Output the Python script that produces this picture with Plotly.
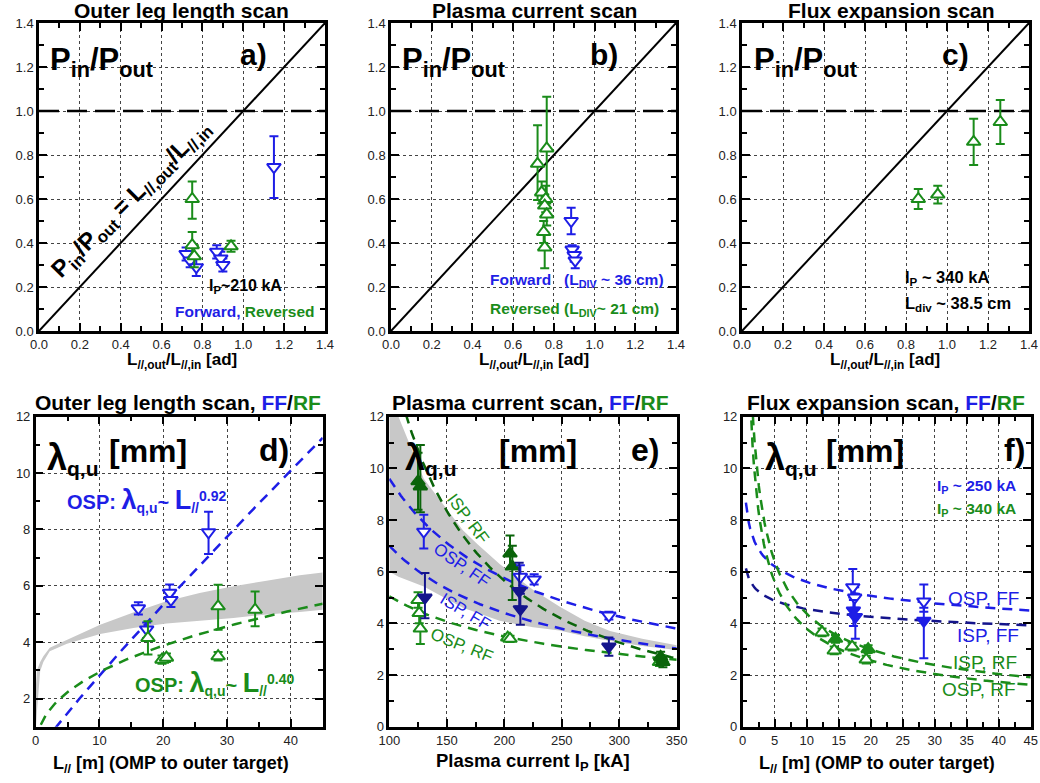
import numpy as np
import plotly.graph_objects as go

W, H = 1040, 783
BLUE = "#1e1ee6"
NAVY = "#14148c"
GREEN = "#1a8c1a"
DKGREEN = "#0a640a"
GRAY = "#c8c8c8"

# ---------------- Panel a: outer leg length scan (P_in/P_out) ----------------
a_fwd_x = [0.72, 0.74, 0.77, 0.87, 0.89, 0.90, 1.15]
a_fwd_y = [0.35, 0.32, 0.29, 0.36, 0.33, 0.30, 0.745]
a_fwd_ep = [0.03, 0.03, 0.04, 0.03, 0.03, 0.03, 0.14]
a_fwd_em = [0.03, 0.03, 0.04, 0.03, 0.03, 0.03, 0.14]
a_rev_x = [0.75, 0.75, 0.76, 0.94]
a_rev_y = [0.60, 0.39, 0.34, 0.385]
a_rev_ep = [0.08, 0.06, 0.05, 0.025]
a_rev_em = [0.09, 0.06, 0.05, 0.025]

# ---------------- Panel b: plasma current scan ----------------
b_fwd_x = [0.885, 0.89, 0.90, 0.905]
b_fwd_y = [0.50, 0.37, 0.345, 0.32]
b_fwd_e = [0.06, 0.02, 0.03, 0.035]
b_rev_x = [0.72, 0.765, 0.74, 0.76, 0.755, 0.765, 0.75, 0.755]
b_rev_y = [0.76, 0.83, 0.63, 0.60, 0.57, 0.53, 0.45, 0.38]
b_rev_ep = [0.175, 0.235, 0.05, 0.06, 0.05, 0.05, 0.05, 0.07]
b_rev_em = [0.165, 0.23, 0.05, 0.06, 0.05, 0.05, 0.05, 0.095]

# ---------------- Panel c: flux expansion scan ----------------
c_rev_x = [0.86, 0.955, 1.13, 1.26]
c_rev_y = [0.60, 0.62, 0.86, 0.95]
c_rev_e = [0.045, 0.04, 0.105, 0.10]

ratio_line = [0.0, 1.4]

# ---------------- Panel d: lambda_q,u vs L// (outer leg length) ----------------
d_ff_L = [16.1, 17.4, 21.0, 21.2, 27.1]
d_ff_lam = [5.2, 4.45, 5.75, 5.5, 7.9]
d_ff_ep = [0.22, 0.25, 0.3, 0.25, 0.73]
d_ff_em = [0.22, 0.3, 0.3, 0.25, 0.77]
d_rf_L = [17.6, 19.8, 20.5, 28.6, 28.6, 34.4]
d_rf_lam = [4.15, 3.38, 3.45, 5.27, 3.5, 5.15]
d_rf_ep = [0.59, 0.15, 0.15, 0.77, 0.15, 0.65]
d_rf_em = [0.59, 0.15, 0.15, 0.83, 0.15, 0.59]
d_band_L = [0.05, 0.2, 0.7, 1.2, 2.2, 4.9, 10.1, 15.3, 20.5, 25.7, 31.0, 36.2, 41.4, 45.0]
d_band_upper = [2.5, 3.0, 3.3, 3.5, 3.8, 4.09, 4.62, 5.05, 5.45, 5.74, 5.98, 6.18, 6.37, 6.47]
d_band_lower = [1.0, 1.55, 2.97, 3.3, 3.68, 3.94, 4.29, 4.5, 4.66, 4.77, 4.86, 4.98, 5.07, 5.15]
# power-law fits  lambda = C * L^b  (coefficient, exponent, L start, L end)
d_fit_ff = (0.339, 0.92, 3.0, 45.0)
d_fit_rf = (1.17, 0.40, 0.8, 45.0)

# ---------------- Panel e: lambda_q,u vs plasma current ----------------
e_isp_rf_I = [125, 127, 205, 207, 336, 338]
e_isp_rf_lam = [9.5, 9.3, 6.7, 6.2, 2.7, 2.5]
e_isp_rf_ep = [1.1, 1.6, 0.7, 0.8, 0.2, 0.2]
e_isp_rf_em = [1.1, 1.0, 0.6, 1.3, 0.2, 0.2]
e_osp_rf_I = [125, 126, 127, 203, 205, 335, 337]
e_osp_rf_lam = [4.9, 4.4, 3.8, 3.45, 3.4, 2.5, 2.6]
e_osp_rf_e = [0.3, 0.4, 0.6, 0.12, 0.12, 0.15, 0.15]
e_isp_ff_I = [131, 213, 214, 291]
e_isp_ff_lam = [5.0, 5.25, 4.55, 3.1]
e_isp_ff_ep = [0.95, 1.1, 0.6, 0.35]
e_isp_ff_em = [0.8, 0.6, 0.6, 0.35]
e_osp_ff_I = [130, 214, 226, 291]
e_osp_ff_lam = [7.55, 5.8, 5.7, 4.3]
e_osp_ff_e = [0.65, 0.45, 0.2, 0.15]
e_band_I = [100, 108, 130, 164, 177, 196, 225, 248, 270, 292, 320, 350]
e_band_upper = [13.5, 12.0, 9.6, 7.6, 7.05, 6.3, 5.3, 4.65, 4.1, 3.7, 3.4, 3.15]
e_band_lower = [6.0, 5.8, 5.43, 4.6, 4.4, 4.1, 3.85, 3.72, 3.5, 3.32, 3.12, 2.97]
# fits lambda = A * (I/100)^-b  (A, b, I start, colour)
e_fits = {
    "OSP, FF": (9.6, 0.74, 100, BLUE),
    "ISP, FF": (7.0, 0.67, 100, BLUE),
    "ISP, RF": (14.5, 1.36, 110, DKGREEN),
    "OSP, RF": (5.05, 0.533, 100, GREEN),
}

# ---------------- Panel f: flux expansion scan ----------------
f_osp_ff_L = [17.2, 17.5, 28.3]
f_osp_ff_lam = [5.4, 5.0, 4.85]
f_osp_ff_ep = [0.7, 0.4, 0.65]
f_osp_ff_em = [0.4, 0.4, 0.4]
f_isp_ff_L = [17.3, 17.6, 28.3]
f_isp_ff_lam = [4.5, 4.25, 4.1]
f_isp_ff_ep = [0.4, 0.3, 0.5]
f_isp_ff_em = [0.6, 0.85, 1.45]
f_rf_open_L = [12.4, 14.3, 17.1, 19.3]
f_rf_open_lam = [3.65, 2.95, 3.1, 2.6]
f_rf_fill_L = [14.5, 19.6]
f_rf_fill_lam = [3.4, 3.0]
# fits lambda = C * L^-b  (C, b, L start, colour)
f_fits = {
    "OSP, FF": (7.84, 0.146, 0.5, BLUE),
    "ISP, FF": (5.72, 0.099, 0.5, NAVY),
    "ISP, RF": (15.5, 0.55, 1.2, GREEN),
    "OSP, RF": (13.9, 0.565, 1.1, GREEN),
}

# ======================================================================
def px(x):
    return x / W


def py(y):
    return 1 - y / H


FONT = "Arial, Liberation Sans, sans-serif"

fig = go.Figure()

top = [py(331), py(23)]
bot = [py(726.7), py(416.7)]
doms = {
    1: ([px(39), px(325)], top),
    2: ([px(391), px(676)], top),
    3: ([px(742), px(1029)], top),
    4: ([px(35.7), px(322.7)], bot),
    5: ([px(389.3), px(676.7)], bot),
    6: ([px(742.7), px(1030.7)], bot),
}


def axis(dom, rng, dtick, mdtick, fmt, anchor, tick0=0):
    return dict(
        domain=dom, range=rng, dtick=dtick, tick0=tick0, tickformat=fmt, automargin=False,
        anchor=anchor, showgrid=True, gridcolor="#444", griddash="dot", gridwidth=1,
        ticks="inside", ticklen=8, tickwidth=2, tickcolor="black",
        minor=dict(ticks="inside", ticklen=5, tickwidth=2, dtick=mdtick, tickcolor="black", showgrid=False),
        showline=True, linecolor="black", linewidth=2.5, mirror="ticks", zeroline=False,
        tickfont=dict(family=FONT, size=13, color="#222"),
    )


specs = {
    1: ((0, 1.4), 0.2, 0.1, ".1f", (0, 1.4), 0.2, 0.1, ".1f"),
    2: ((0, 1.4), 0.2, 0.1, ".1f", (0, 1.4), 0.2, 0.1, ".1f"),
    3: ((0, 1.4), 0.2, 0.1, ".1f", (0, 1.4), 0.2, 0.1, ".1f"),
    4: ((0, 45), 10, 5, "d", (1, 12), 2, 1, "d"),
    5: ((100, 350), 50, 25, "d", (0, 12), 2, 1, "d"),
    6: ((0, 45), 5, 2.5, "d", (0, 12), 2, 1, "d"),
}
lay = {}
for i, (xr, xd, xm, xf, yr, yd, ym, yf) in specs.items():
    s = "" if i == 1 else str(i)
    lay["xaxis" + s] = axis(doms[i][0], list(xr), xd, xm, xf, "y" + s)
    lay["yaxis" + s] = axis(doms[i][1], list(yr), yd, ym, yf, "x" + s)
fig.update_layout(**lay)


def ref(i):
    s = "" if i == 1 else str(i)
    return "x" + s, "y" + s


def pts(i, x, y, color, symbol, ep, em=None, size=12, fill=False):
    xa, ya = ref(i)
    fig.add_trace(go.Scatter(
        x=x, y=y, xaxis=xa, yaxis=ya, mode="markers", showlegend=False,
        marker=dict(symbol=symbol, size=size, color=color if fill else "white",
                    line=dict(color=color, width=2)),
        error_y=dict(type="data", array=ep, arrayminus=em if em is not None else ep,
                     color=color, thickness=2, width=4.5),
    ))


def line(i, x, y, color, dash, width=2.5):
    xa, ya = ref(i)
    fig.add_trace(go.Scatter(x=x, y=y, xaxis=xa, yaxis=ya, mode="lines", showlegend=False,
                             line=dict(color=color, width=width, dash=dash)))


def band(i, x, up, lo):
    xa, ya = ref(i)
    fig.add_trace(go.Scatter(x=list(x) + list(x)[::-1], y=list(up) + list(lo)[::-1],
                             xaxis=xa, yaxis=ya, mode="lines", fill="toself",
                             fillcolor=GRAY, line=dict(width=0, color=GRAY), showlegend=False))


# top row reference lines
for i in (1, 2, 3):
    line(i, ratio_line, ratio_line, "black", "solid", 2)
    line(i, ratio_line, [1.0, 1.0], "black", "20px,8px", 2.5)

pts(1, a_fwd_x, a_fwd_y, BLUE, "triangle-down", a_fwd_ep, a_fwd_em)
pts(1, a_rev_x, a_rev_y, GREEN, "triangle-up", a_rev_ep, a_rev_em)
pts(2, b_rev_x, b_rev_y, GREEN, "triangle-up", b_rev_ep, b_rev_em)
pts(2, b_fwd_x, b_fwd_y, BLUE, "triangle-down", b_fwd_e)
pts(3, c_rev_x, c_rev_y, GREEN, "triangle-up", c_rev_e)

# panel d
band(4, d_band_L, d_band_upper, d_band_lower)
for (C, b, l0, l1), col in ((d_fit_ff, BLUE), (d_fit_rf, GREEN)):
    L = np.linspace(l0, l1, 120)
    line(4, L, C * L ** b, col, "10px,7px")
pts(4, d_ff_L, d_ff_lam, BLUE, "triangle-down", d_ff_ep, d_ff_em)
pts(4, d_rf_L, d_rf_lam, GREEN, "triangle-up", d_rf_ep, d_rf_em)

# panel e
band(5, e_band_I, e_band_upper, e_band_lower)
for name, (A, b, i0, col) in e_fits.items():
    I = np.linspace(i0, 350, 150)
    line(5, I, A * (I / 100.0) ** (-b), col, "10px,7px")
pts(5, e_osp_rf_I, e_osp_rf_lam, GREEN, "triangle-up", e_osp_rf_e)
pts(5, e_isp_rf_I, e_isp_rf_lam, DKGREEN, "triangle-up", e_isp_rf_ep, e_isp_rf_em, fill=True)
pts(5, e_osp_ff_I, e_osp_ff_lam, BLUE, "triangle-down", e_osp_ff_e)
pts(5, e_isp_ff_I, e_isp_ff_lam, NAVY, "triangle-down", e_isp_ff_ep, e_isp_ff_em, fill=True)

# panel f
for name, (C, b, l0, col) in f_fits.items():
    L = np.linspace(l0, 45, 200)
    line(6, L, C * L ** (-b), col, "10px,7px")
pts(6, f_rf_open_L, f_rf_open_lam, GREEN, "triangle-up", [0.15] * len(f_rf_open_L))
pts(6, f_rf_fill_L, f_rf_fill_lam, GREEN, "triangle-up", [0.15] * len(f_rf_fill_L), fill=True)
pts(6, f_osp_ff_L, f_osp_ff_lam, BLUE, "triangle-down", f_osp_ff_ep, f_osp_ff_em)
pts(6, f_isp_ff_L, f_isp_ff_lam, BLUE, "triangle-down", f_isp_ff_ep, f_isp_ff_em, fill=True)

# ---------------- text annotations ----------------
ann = []


def txt(x, y, text, size, color="black", bold=True, xanchor="center", yanchor="middle", angle=0):
    t = "<b>" + text + "</b>" if bold else text
    ann.append(dict(x=px(x), y=py(y), xref="paper", yref="paper", text=t, showarrow=False,
                    xanchor=xanchor, yanchor=yanchor, textangle=angle,
                    font=dict(family=FONT, size=size, color=color)))


def span(c, t):
    return '<span style="color:%s">%s</span>' % (c, t)


def big(t, s):
    return '<span style="font-size:%dpx">%s</span>' % (s, t)


# titles
txt(181, 11, "Outer leg length scan", 21)
txt(534, 11, "Plasma current scan", 21)
txt(891, 11, "Flux expansion scan", 21)
FFRF = span(BLUE, "FF") + "/" + span(GREEN, "RF")
txt(33, 402, "Outer leg length scan, " + FFRF, 21, xanchor="left")
txt(390, 402, "Plasma current scan, " + FFRF, 21, xanchor="left")
txt(745, 402, "Flux expansion scan, " + FFRF, 21, xanchor="left")

# axis titles
LRAT = "L<sub>//,out</sub>/L<sub>//,in</sub> [ad]"
txt(182, 361, LRAT, 17)
txt(534, 361, LRAT, 17)
txt(885, 361, LRAT, 17)
txt(171, 764, "L<sub>//</sub> [m] (OMP to outer target)", 18)
txt(533, 762, "Plasma current I<sub>P</sub> [kA]", 18.5)
txt(877, 764, "L<sub>//</sub> [m] (OMP to outer target)", 18)

# panel labels
PP = "P<sub>in</sub>/P<sub>out</sub>"
for x0, lab, lx in ((48, "a)", 253), (400, "b)", 604), (752, "c)", 955)):
    txt(x0, 62, PP, 31, xanchor="left")
    txt(lx, 55, lab, 30)
txt(131, 199, "P<sub>in</sub>/P<sub>out</sub> = L<sub>//,out</sub>/L<sub>//,in</sub>", 24, angle=-45)
txt(207, 286, "I<sub>P</sub>~210 kA", 16, xanchor="left")
txt(173, 311, span(BLUE, "Forward,") + " " + span(GREEN, "Reversed"), 15.5, xanchor="left")
txt(488, 280, "Forward   (L<sub>DIV</sub> ~ 36 cm)", 15.5, color=BLUE, xanchor="left")
txt(488, 309, "Reversed (L<sub>DIV</sub>~ 21 cm)", 15.5, color=GREEN, xanchor="left")
txt(903, 278, "I<sub>P</sub> ~ 340 kA", 16.5, xanchor="left")
txt(903, 304, "L<sub>div</sub> ~ 38.5 cm", 16.5, xanchor="left")

LAMQ = big("λ", 36) + "<sub>q,u</sub>"
for lx, mx, tx, lab in ((45, 107, 274, "d)"), (403, 497, 645, "e)"), (763, 824, 1014, "f)")):
    txt(lx, 458, LAMQ, 30, xanchor="left")
    txt(mx, 451, "[mm]", 32, xanchor="left")
    txt(tx, 450, lab, 32)

txt(65, 500, "OSP: " + big("λ", 27) + "<sub>q,u</sub>~ " + big("L", 27) + "<sub>//</sub><sup>0.92</sup>",
    20, color=BLUE, xanchor="left")
txt(133, 683, "OSP: " + big("λ", 27) + "<sub>q,u</sub>~ " + big("L", 27) + "<sub>//</sub><sup>0.40</sup>",
    20, color=GREEN, xanchor="left")

txt(468, 518, "ISP, RF", 17, color=GREEN, bold=False, angle=53)
txt(462, 565, "OSP, FF", 17, color=BLUE, bold=False, angle=35)
txt(465, 611, "ISP, FF", 17, color=BLUE, bold=False, angle=31)
txt(462, 645, "OSP, RF", 17, color=GREEN, bold=False, angle=22)

txt(935, 486, "I<sub>P</sub> ~ 250 kA", 15.5, color=BLUE, xanchor="left")
txt(935, 510, "I<sub>P</sub> ~ 340 kA", 15.5, color=GREEN, xanchor="left")
txt(1021, 598, "OSP, FF", 19, color=BLUE, bold=False, xanchor="right")
txt(1021, 635, "ISP, FF", 19, color=BLUE, bold=False, xanchor="right")
txt(1019, 662, "ISP, RF", 19, color=GREEN, bold=False, xanchor="right")
txt(1018, 689, "OSP, RF", 19, color=GREEN, bold=False, xanchor="right")

fig.update_layout(
    annotations=ann, width=W, height=H, margin=dict(l=0, r=0, t=0, b=0),
    plot_bgcolor="white", paper_bgcolor="white", showlegend=False,
    font=dict(family=FONT),
)
fig.write_html("out.html")
